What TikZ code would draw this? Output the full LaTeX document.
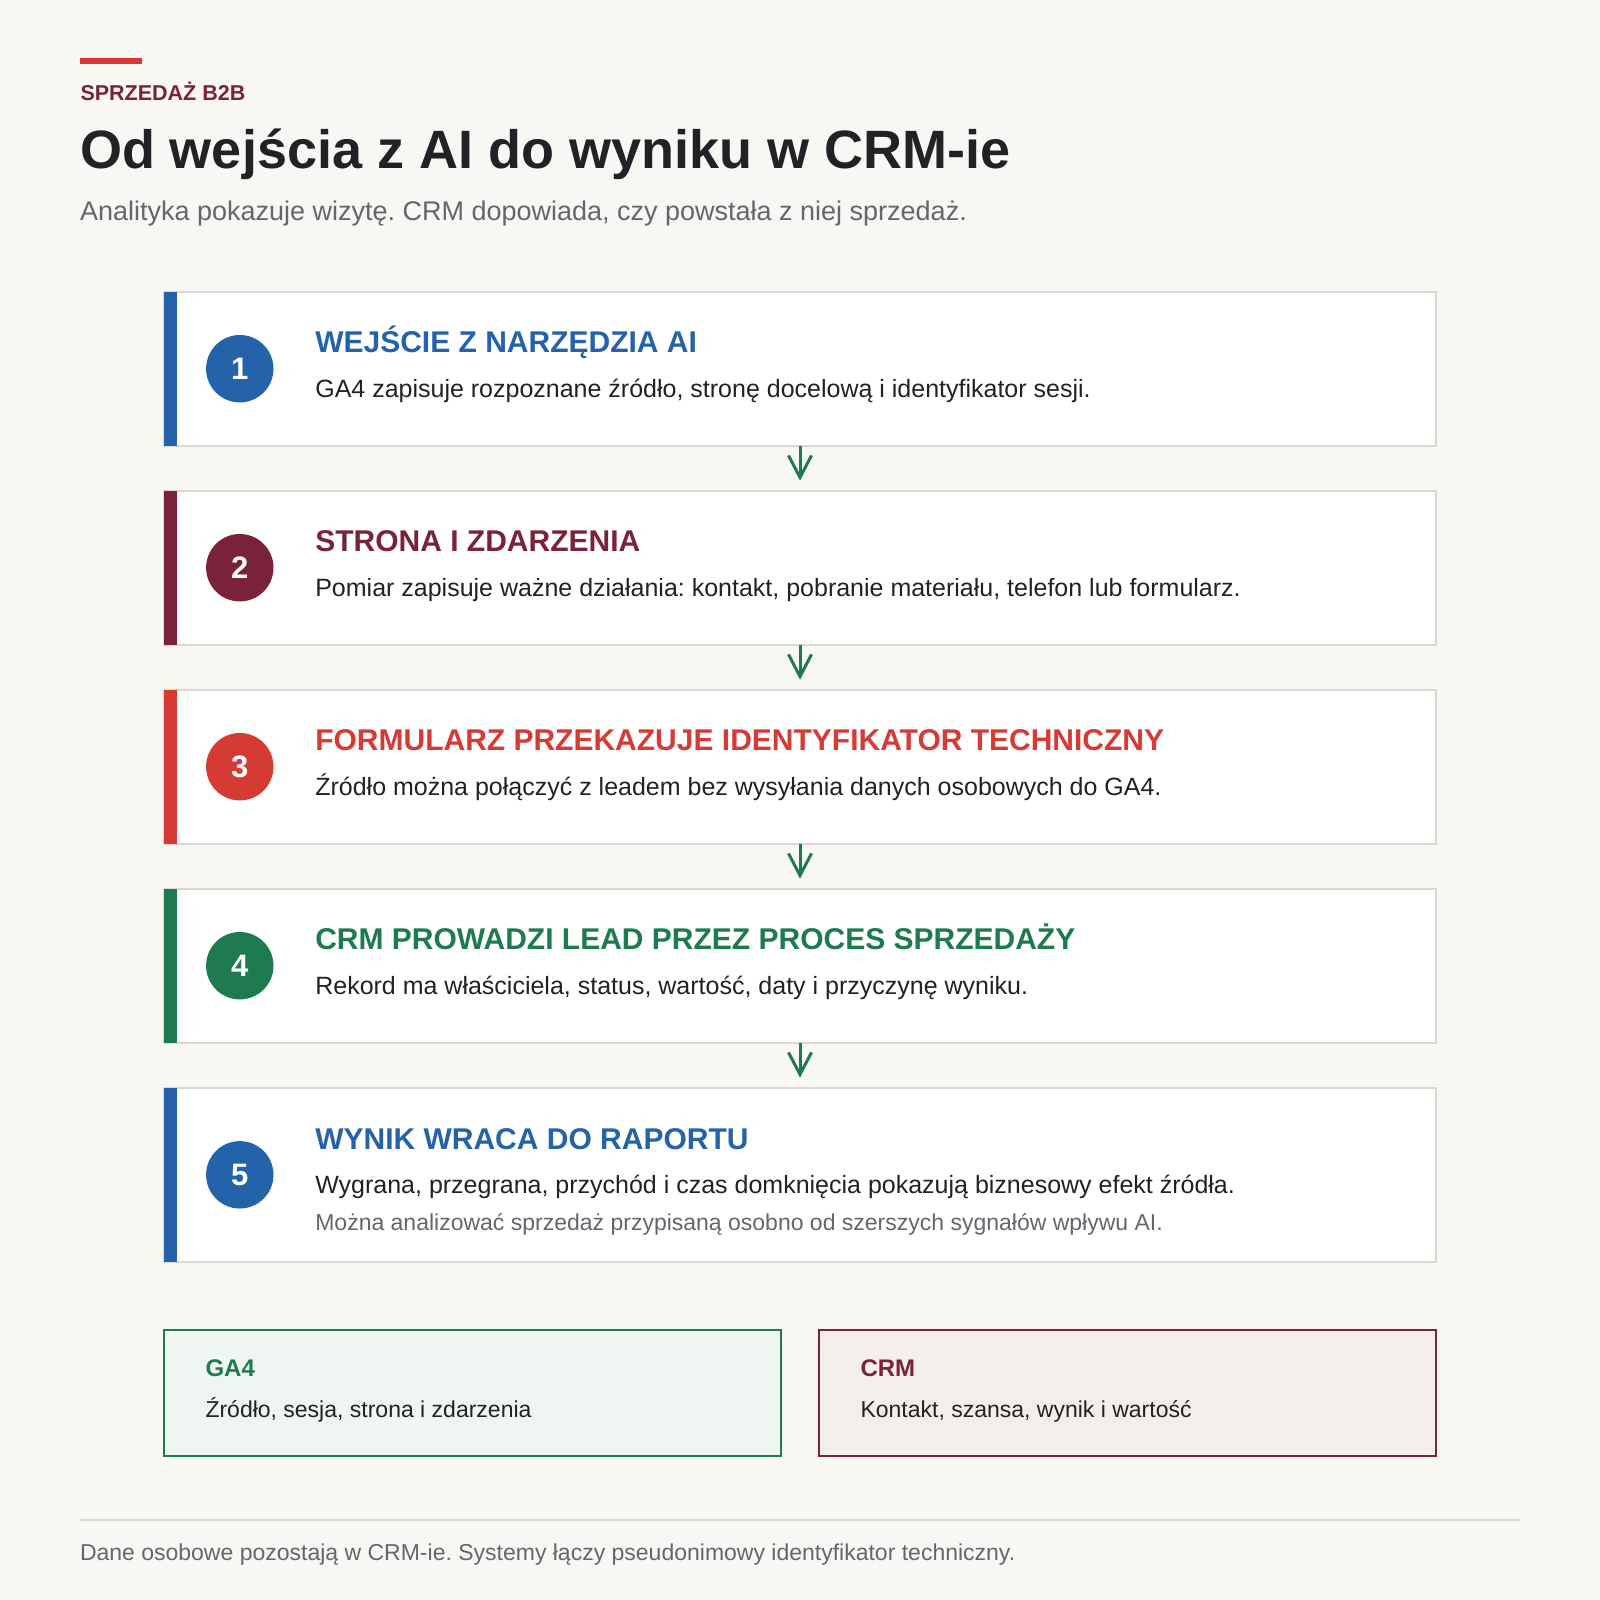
\documentclass[tikz,border=0pt]{standalone}
\usepackage{fontspec}
\setmainfont{Liberation Sans}
\usetikzlibrary{arrows.meta}
\frenchspacing
\definecolor{bgc}{HTML}{F8F7F4}
\definecolor{maroonc}{HTML}{7A2239}
\definecolor{redc}{HTML}{D63A35}
\definecolor{bluec}{HTML}{2462AA}
\definecolor{greenc}{HTML}{1E7A4F}
\definecolor{borderc}{HTML}{DCD8D0}
\definecolor{textc}{HTML}{222126}
\definecolor{grayc}{HTML}{66656D}
\definecolor{gafill}{HTML}{EFF5F0}
\definecolor{crmfill}{HTML}{F2EFEA}
\tikzset{
  txt/.style={anchor=base west, inner sep=0pt, outer sep=0pt},
  stepbox/.style={draw=borderc, line width=2pt, fill=white, anchor=north west, inner sep=0pt, outer sep=0pt, minimum width=1271.4pt, minimum height=154pt},
  sidebar/.style={fill=#1, draw=none, anchor=north west, inner sep=0pt, outer sep=0pt, minimum width=12.2pt},
  numcirc/.style={circle, fill=#1, draw=none, minimum size=67.4pt, inner sep=0pt, text=white, font=\fontsize{31}{36}\selectfont\bfseries},
  headtxt/.style={txt, text=#1, font=\fontsize{30}{35}\selectfont\bfseries},
  bodytxt/.style={txt, text=textc, font=\fontsize{25}{30}\selectfont},
  flowarrow/.style={draw=greenc, line width=3pt, shorten >=10pt, -{Straight Barb[length=22pt, width=23pt, line width=3pt]}},
  sumbox/.style={draw=#1, line width=2pt, anchor=north west, inner sep=0pt, outer sep=0pt, minimum width=616.3pt, minimum height=126pt},
}
\begin{document}
\begin{tikzpicture}[x=1pt,y=-1pt]
\fill[bgc] (0,0) rectangle (1600,1600);
\useasboundingbox (0,0) rectangle (1600,1600);
% header
\fill[redc] (80,58) rectangle (142,64);
\node[txt, text=maroonc, font=\fontsize{21.5}{25}\selectfont\bfseries] (kicker) at (80.5,101) {SPRZEDAŻ B2B};
\node[txt, text=textc, font=\fontsize{54}{62}\selectfont\bfseries] (title) at (80,168.3) {Od wejścia z AI do wyniku w CRM-ie};
\node[txt, text=grayc, font=\fontsize{27}{32}\selectfont] (subtitle) at (80,220) {Analityka pokazuje wizytę. CRM dopowiada, czy powstała z niej sprzedaż.};
% step boxes
\node[stepbox] (b1) at (164.3,291.7) {};
\node[stepbox] (b2) at (164.3,490.7) {};
\node[stepbox] (b3) at (164.3,689.7) {};
\node[stepbox] (b4) at (164.3,888.7) {};
\node[stepbox, minimum height=174.3pt] (b5) at (164.3,1087.7) {};
\node[sidebar=bluec, minimum height=154pt] (s1) at (164.3,291.7) {};
\node[sidebar=maroonc, minimum height=154pt] (s2) at (164.3,490.7) {};
\node[sidebar=redc, minimum height=154pt] (s3) at (164.3,689.7) {};
\node[sidebar=greenc, minimum height=154pt] (s4) at (164.3,888.7) {};
\node[sidebar=bluec, minimum height=174.3pt] (s5) at (164.3,1087.7) {};
% circles
\node[numcirc=bluec] (c1) at (239.8,368.7) {1};
\node[numcirc=maroonc] (c2) at (239.8,567.7) {2};
\node[numcirc=redc] (c3) at (239.8,766.7) {3};
\node[numcirc=greenc] (c4) at (239.8,965.7) {4};
\node[numcirc=bluec] (c5) at (239.8,1174.8) {5};
% headings and texts
\node[headtxt=bluec] (h1) at (315.3,352.7) {WEJŚCIE Z NARZĘDZIA AI};
\node[bodytxt] (t1) at (315.3,397.3) {GA4 zapisuje rozpoznane źródło, stronę docelową i identyfikator sesji.};
\node[headtxt=maroonc] (h2) at (315.3,551.7) {STRONA I ZDARZENIA};
\node[bodytxt] (t2) at (315.3,596.3) {Pomiar zapisuje ważne działania: kontakt, pobranie materiału, telefon lub formularz.};
\node[headtxt=redc] (h3) at (315.3,750.7) {FORMULARZ PRZEKAZUJE IDENTYFIKATOR TECHNICZNY};
\node[bodytxt] (t3) at (315.3,795.3) {Źródło można połączyć z leadem bez wysyłania danych osobowych do GA4.};
\node[headtxt=greenc] (h4) at (315.3,949.7) {CRM PROWADZI LEAD PRZEZ PROCES SPRZEDAŻY};
\node[bodytxt] (t4) at (315.3,994.3) {Rekord ma właściciela, status, wartość, daty i przyczynę wyniku.};
\node[headtxt=bluec] (h5) at (315.3,1149.3) {WYNIK WRACA DO RAPORTU};
\node[bodytxt] (t5) at (315.3,1193.3) {Wygrana, przegrana, przychód i czas domknięcia pokazują biznesowy efekt źródła.};
\node[txt, text=grayc, font=\fontsize{23}{27}\selectfont] (t5b) at (315.3,1230) {Można analizować sprzedaż przypisaną osobno od szerszych sygnałów wpływu AI.};
% arrows
\draw[flowarrow] (b1.south) -- (b2.north);
\draw[flowarrow] (b2.south) -- (b3.north);
\draw[flowarrow] (b3.south) -- (b4.north);
\draw[flowarrow] (b4.south) -- (b5.north);
% summary boxes
\node[sumbox=greenc, fill=gafill] (ga4box) at (164.3,1330) {};
\node[sumbox=maroonc, fill=crmfill] (crmbox) at (819.4,1330) {};
\node[txt, text=greenc, font=\fontsize{24}{28}\selectfont\bfseries] (galabel) at (205.5,1376.7) {GA4};
\node[txt, text=textc, font=\fontsize{23}{28}\selectfont] (gatext) at (205.5,1417.7) {Źródło, sesja, strona i zdarzenia};
\node[txt, text=maroonc, font=\fontsize{24}{28}\selectfont\bfseries] (crmlabel) at (860.5,1376.7) {CRM};
\node[txt, text=textc, font=\fontsize{23}{28}\selectfont] (crmtext) at (860.5,1417.7) {Kontakt, szansa, wynik i wartość};
% footer
\draw[borderc, line width=1.5pt] (80,1520) -- (1520,1520);
\node[txt, text=grayc, font=\fontsize{23}{27}\selectfont] (footer) at (80,1560) {Dane osobowe pozostają w CRM-ie. Systemy łączy pseudonimowy identyfikator techniczny.};
\end{tikzpicture}
\end{document}
